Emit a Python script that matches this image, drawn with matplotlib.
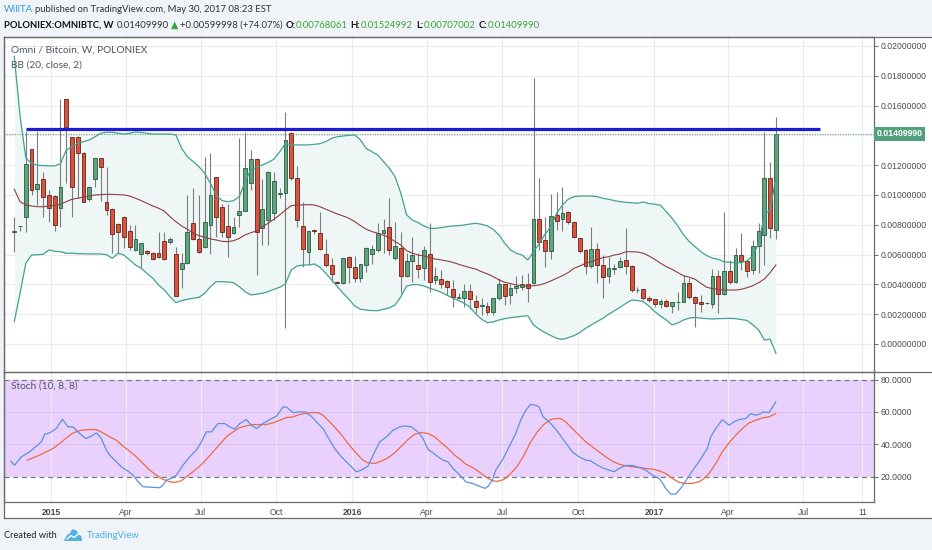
import numpy as np
import pandas as pd
import matplotlib
matplotlib.use("Agg")
import matplotlib.pyplot as plt
from matplotlib.patches import Rectangle, Polygon
from matplotlib.lines import Line2D
from matplotlib.ticker import FuncFormatter
import matplotlib.transforms as mtransforms

# ---------------- data (prices in mBTC, i.e. x 0.001 BTC) ----------------
first_week = '2014-11-17'
opens = [7.50, 7.90, 8.54, 13.06, 10.38, 11.05, 10.00, 9.93, 9.15, 16.42,
         13.87, 13.91, 12.84, 9.71, 11.05, 12.46, 9.55, 9.04, 8.05, 8.54,
         7.60, 6.31, 6.04, 6.24, 6.13, 6.09, 6.91, 6.83, 6.04, 5.01,
         5.42, 8.10, 7.03, 6.49, 7.99, 11.19, 9.17, 7.94, 7.43, 8.66,
         8.93, 10.78, 12.42, 7.77, 8.32, 8.81, 10.08, 10.15, 14.14, 11.16,
         7.94, 6.15, 7.62, 7.43, 6.04, 5.30, 4.18, 4.07, 5.86, 5.15,
         4.45, 5.30, 6.04, 6.31, 7.47, 7.87, 5.79, 6.42, 4.56, 5.57,
         5.30, 5.08, 6.02, 4.30, 4.36, 4.25, 3.67, 3.10, 3.11, 3.56,
         2.89, 2.55, 2.57, 2.13, 3.07, 4.01, 3.29, 3.74, 3.85, 4.01,
         4.07, 8.37, 6.98, 6.24, 8.66, 8.37, 8.88, 8.21, 7.09, 6.31,
         5.23, 6.36, 5.30, 4.58, 5.06, 5.19, 5.64, 5.23, 3.60, 3.67,
         3.07, 3.00, 2.66, 2.89, 2.57, 2.80, 2.84, 4.07, 3.17, 2.84,
         2.72, 2.68, 4.58, 3.34, 4.92, 4.18, 5.97, 5.59, 4.97, 6.60,
         7.32, 11.16, 7.68061]
highs = [8.54, 7.95, 14.30, 13.10, 14.30, 11.56, 10.30, 10.00, 16.42, 16.42,
         13.90, 13.95, 12.90, 10.60, 12.50, 12.50, 11.86, 9.10, 8.10, 8.60,
         7.99, 7.99, 6.80, 6.30, 6.15, 7.54, 7.54, 7.20, 6.53, 6.09,
         10.00, 10.45, 10.00, 12.53, 12.80, 11.20, 9.40, 9.40, 8.50, 13.80,
         14.25, 13.02, 12.45, 11.05, 11.60, 11.56, 10.50, 15.59, 14.20, 11.95,
         9.55, 7.60, 7.70, 8.88, 7.03, 5.79, 4.25, 5.80, 5.90, 5.91,
         5.40, 6.50, 6.64, 8.14, 8.37, 9.78, 8.21, 7.54, 6.09, 7.16,
         6.09, 6.60, 8.14, 5.19, 4.97, 4.30, 4.30, 3.40, 4.03, 4.03,
         3.29, 3.07, 2.84, 3.10, 4.41, 4.05, 4.07, 4.58, 4.60, 4.74,
         17.83, 11.12, 8.54, 10.07, 10.22, 10.56, 8.90, 8.25, 7.10, 6.35,
         7.83, 6.80, 5.97, 5.86, 5.35, 5.86, 7.76, 5.30, 3.80, 3.70,
         3.20, 3.05, 3.00, 3.00, 2.85, 3.51, 4.63, 4.41, 3.20, 3.29,
         2.80, 5.01, 4.97, 8.88, 5.64, 6.42, 7.43, 5.60, 6.98, 8.14,
         14.25, 12.24, 15.24992]
lows = [6.19, 7.60, 7.54, 10.00, 9.30, 8.54, 8.21, 7.60, 7.87, 10.78,
        8.54, 9.78, 9.50, 9.60, 10.56, 9.62, 8.66, 6.09, 6.13, 6.42,
        6.31, 6.26, 5.08, 6.00, 5.65, 5.75, 5.65, 6.70, 3.20, 3.74,
        5.40, 7.00, 6.09, 6.42, 6.04, 7.20, 7.20, 5.86, 7.40, 7.87,
        8.90, 10.34, 4.63, 6.64, 6.64, 8.32, 9.80, 1.05, 11.00, 7.87,
        5.19, 5.30, 7.40, 6.30, 5.19, 4.18, 4.05, 4.00, 4.07, 4.18,
        4.18, 4.85, 5.35, 6.19, 6.09, 5.97, 5.64, 3.40, 4.50, 4.18,
        4.41, 4.30, 3.51, 4.03, 3.74, 3.29, 2.50, 3.00, 2.50, 2.33,
        2.06, 1.95, 1.95, 1.95, 2.95, 2.62, 2.68, 3.44, 3.60, 2.84,
        4.00, 6.31, 5.19, 5.68, 7.65, 7.60, 8.05, 7.09, 6.09, 4.70,
        5.08, 4.07, 3.07, 4.07, 4.70, 5.10, 4.70, 3.51, 3.45, 2.95,
        2.85, 2.50, 2.40, 2.50, 2.06, 2.28, 2.80, 3.00, 1.16, 2.17,
        2.65, 2.40, 2.06, 3.30, 4.03, 4.11, 4.97, 4.52, 4.68, 4.74,
        5.30, 7.09, 7.07002]
closes = [7.56, 7.92, 12.06, 10.34, 10.74, 9.89, 9.11, 7.99, 10.52, 14.54,
          10.52, 12.80, 9.55, 10.52, 12.46, 11.86, 8.99, 7.36, 7.54, 7.20,
          6.53, 7.03, 6.76, 6.09, 5.70, 5.82, 5.70, 7.05, 3.22, 5.42,
          7.50, 7.03, 6.19, 8.17, 10.00, 8.54, 7.54, 7.20, 7.87, 8.93,
          11.79, 12.42, 7.54, 9.04, 11.56, 10.94, 10.12, 13.69, 11.12, 8.32,
          6.36, 7.60, 7.58, 6.36, 5.30, 4.70, 4.10, 5.79, 5.15, 4.45,
          5.37, 6.46, 6.36, 7.43, 7.65, 6.31, 6.58, 4.56, 5.59, 5.97,
          5.01, 6.31, 4.18, 4.56, 4.03, 3.81, 3.17, 3.12, 3.56, 3.02,
          2.50, 2.60, 2.17, 3.07, 4.01, 3.24, 3.74, 3.89, 4.00, 3.74,
          8.37, 6.83, 6.26, 8.61, 8.26, 8.81, 8.21, 7.20, 6.24, 5.23,
          6.38, 5.30, 4.52, 5.08, 5.10, 5.59, 5.23, 3.62, 3.64, 3.07,
          2.95, 2.68, 2.91, 2.57, 2.82, 2.83, 4.07, 3.17, 2.73, 2.66,
          2.74, 4.58, 3.34, 4.92, 4.18, 5.97, 5.59, 4.92, 6.60, 7.60,
          11.16, 7.77, 14.0999]

bb_upper = [19.3, 15.3, 12.5, 12.1, 12.0, 11.97, 11.95, 11.95, 12.1, 13.0,
            13.24, 13.47, 13.58, 13.69, 13.91, 14.14, 14.21, 14.21, 14.14, 14.09,
            14.14, 14.23, 14.2, 14.14, 14.09, 14.09, 14.09, 14.09, 14.03, 13.13,
            12.57, 12.24, 11.9, 11.46, 10.78, 10.0, 9.62, 9.55, 9.62, 9.89,
            10.89, 11.72, 11.86, 12.01, 12.19, 12.4, 12.9, 13.47, 13.36, 13.36,
            13.36, 13.36, 13.4, 13.44, 13.58, 13.8, 13.91, 13.96, 14.0, 14.03,
            13.69, 13.13, 12.9, 12.68, 12.24, 11.79, 11.23, 10.11, 8.66, 8.32,
            8.14, 7.92, 7.76, 7.76, 7.81, 7.87, 7.92, 7.94, 7.99, 8.05,
            8.1, 8.03, 7.92, 7.7, 7.32, 6.76, 6.31, 6.09, 5.97, 5.64,
            6.19, 6.76, 7.38, 7.87, 8.77, 9.33, 9.71, 9.89, 9.93, 9.93,
            9.93, 9.89, 9.78, 9.71, 9.62, 9.55, 9.51, 9.48, 9.44, 9.53,
            9.42, 9.38, 9.31, 8.88, 8.44, 7.92, 7.32, 6.87, 6.53, 6.19,
            5.93, 5.77, 5.68, 5.52, 5.48, 5.46, 5.46, 5.59, 5.91, 6.76,
            8.66, 8.99, 11.19]
bb_middle = [10.38, 9.55, 9.33, 9.26, 9.21, 9.21, 9.26, 9.31, 9.38, 9.55,
             9.71, 9.78, 9.85, 9.93, 10.0, 10.02, 10.04, 10.04, 10.02, 10.0,
             9.93, 9.78, 9.62, 9.44, 9.26, 9.11, 8.92, 8.54, 8.21, 7.92,
             7.7, 7.43, 7.27, 7.16, 7.05, 6.98, 6.89, 6.87, 6.93, 7.09,
             7.32, 7.47, 7.58, 7.87, 8.1, 8.37, 8.66, 8.99, 9.28, 9.33,
             9.33, 9.35, 9.33, 9.21, 9.04, 8.88, 8.72, 8.59, 8.44, 8.21,
             7.94, 7.7, 7.54, 7.43, 7.29, 7.13, 6.87, 6.64, 6.26, 6.09,
             5.97, 5.91, 5.79, 5.7, 5.64, 5.57, 5.48, 5.35, 5.23, 5.12,
             5.02, 4.85, 4.7, 4.52, 4.3, 4.14, 4.05, 3.96, 3.91, 3.89,
             3.91, 3.96, 4.07, 4.23, 4.41, 4.58, 4.79, 5.08, 5.23, 5.42,
             5.52, 5.68, 5.79, 5.86, 5.97, 6.04, 6.19, 6.19, 6.17, 6.09,
             5.91, 5.68, 5.42, 5.19, 5.01, 4.79, 4.58, 4.48, 4.34, 4.07,
             3.81, 3.71, 3.67, 3.62, 3.62, 3.62, 3.67, 3.78, 3.91, 4.11,
             4.36, 4.79, 5.3]
bb_lower = [1.5, 3.4, 5.42, 5.97, 5.99, 6.02, 6.31, 6.22, 6.19, 6.09,
            6.09, 6.06, 6.06, 6.04, 6.04, 6.04, 5.99, 5.75, 6.09, 5.97,
            5.64, 5.3, 5.08, 4.74, 4.41, 3.96, 3.62, 3.17, 2.77, 2.91,
            3.0, 3.07, 3.13, 3.4, 3.85, 4.18, 4.18, 4.16, 4.11, 3.85,
            3.51, 3.29, 3.34, 3.4, 3.51, 3.67, 3.81, 4.03, 4.97, 5.23,
            5.3, 5.3, 5.37, 5.14, 4.74, 4.3, 3.85, 3.4, 3.0, 2.55,
            2.33, 2.28, 2.24, 2.24, 2.33, 2.42, 2.62, 3.17, 3.89, 3.98,
            3.98, 3.89, 3.74, 3.62, 3.47, 3.27, 3.07, 2.91, 2.73, 2.46,
            2.0, 1.66, 1.43, 1.48, 1.61, 1.7, 1.77, 1.81, 1.86, 1.9,
            1.28, 0.99, 0.76, 0.56, 0.38, 0.31, 0.42, 0.56, 0.76, 1.05,
            1.28, 1.5, 1.72, 1.99, 2.23, 2.46, 2.73, 2.95, 2.92, 2.84,
            2.55, 2.17, 1.88, 1.61, 1.28, 1.41, 1.61, 1.74, 1.78, 1.74,
            1.7, 1.68, 1.7, 1.71, 1.72, 1.7, 1.64, 1.58, 1.28, 0.94,
            0.27, 0.32, -0.62]

# Stochastic (10, 8, 8): position in weeks from 2014-12-29, value
stoch_k_weeks = [-6.62, -5.93, -4.77, -3.33, -2.17, -1.30, -0.73, 0.14, 1.29, 2.33,
                 3.32, 4.18, 5.34, 6.38, 7.36, 8.23, 9.09, 9.96, 10.54, 11.40,
                 12.56, 13.71, 14.58, 15.45, 16.31, 18.05, 19.20, 19.78, 20.36, 21.22,
                 22.09, 23.25, 24.40, 25.56, 26.42, 27.29, 28.16, 29.31, 30.47, 31.33,
                 32.20, 33.07, 34.22, 35.09, 35.96, 37.11, 38.27, 39.42, 40.58, 41.16,
                 42.31, 43.47, 44.33, 45.49, 46.64, 47.51, 48.67, 49.53, 50.69, 51.56,
                 52.42, 53.29, 54.15, 55.31, 56.46, 57.33, 58.49, 59.64, 60.80, 61.66,
                 62.82, 63.97, 64.84, 65.71, 66.57, 67.44, 68.31, 69.17, 70.04, 71.20,
                 72.24, 73.40, 74.55, 75.59, 76.17, 76.86, 77.44, 78.59, 79.75, 80.91,
                 81.77, 82.64, 83.51, 84.37, 84.95, 85.64, 86.39, 87.26, 88.42, 89.57,
                 90.73, 91.88, 93.04, 93.90, 94.77, 95.93, 97.08, 97.95, 98.81, 99.97,
                 101.12, 102.28, 103.44, 104.59, 105.75, 106.32, 106.90, 107.77, 108.64, 109.50,
                 110.66, 111.81, 112.68, 113.55, 114.12, 114.70, 115.57, 116.72, 117.88, 118.74,
                 119.61, 120.77, 121.63, 122.50, 123.37, 123.65, 124.81, 125.97]
stoch_k_vals = [29.65, 27.19, 32.32, 35.4, 38.89, 41.56, 46.28, 47.1, 49.77, 55.52,
                50.8, 50.8, 46.69, 43.61, 45.05, 47.1, 43.61, 36.43, 33.35, 30.27,
                26.16, 23.49, 21.03, 16.92, 13.84, 13.43, 13.22, 14.87, 17.95, 18.97,
                21.03, 27.19, 32.32, 36.43, 41.56, 47.72, 47.72, 52.85, 52.85, 50.8,
                49.36, 52.85, 55.32, 51.83, 49.77, 52.85, 55.32, 57.37, 63.12, 63.12,
                59.63, 60.04, 60.04, 57.37, 52.85, 49.77, 42.59, 37.45, 32.32, 29.24,
                26.16, 23.08, 24.11, 26.57, 35.4, 41.56, 44.64, 48.75, 50.8, 51.42,
                50.8, 47.72, 43.61, 36.84, 34.78, 32.32, 30.27, 29.24, 25.13, 21.03,
                16.92, 15.89, 14.25, 12.81, 14.25, 17.95, 24.11, 30.27, 38.48, 46.69,
                54.91, 61.07, 64.76, 64.15, 63.12, 56.96, 54.91, 51.83, 46.69, 40.94,
                35.4, 32.32, 30.27, 29.86, 27.8, 25.54, 24.11, 23.08, 25.13, 26.98,
                26.98, 25.75, 24.11, 21.03, 18.97, 16.3, 12.81, 9.32, 9.32, 12.81,
                18.97, 25.13, 29.24, 34.37, 37.45, 44.64, 49.77, 55.32, 51.83, 53.88,
                55.32, 55.93, 59.01, 57.99, 59.01, 60.04, 59.63, 66.2]
stoch_d_weeks = [-3.79, -2.75, -1.60, -0.44, 0.72, 1.87, 3.03, 4.18, 5.63, 7.07,
                 8.23, 9.38, 10.54, 11.69, 12.85, 14.0, 15.16, 16.31, 17.47, 18.62,
                 19.78, 20.94, 21.80, 22.96, 23.82, 24.98, 26.14, 27.29, 28.45, 29.60,
                 30.76, 31.91, 33.07, 34.22, 35.38, 36.53, 37.69, 38.84, 40.0, 41.16,
                 42.31, 43.47, 44.62, 45.78, 46.64, 47.51, 48.38, 49.24, 50.11, 50.98,
                 51.84, 52.71, 53.58, 54.44, 55.31, 56.46, 57.62, 58.77, 59.93, 61.09,
                 62.24, 63.40, 64.55, 65.71, 66.86, 68.02, 69.17, 70.33, 71.48, 72.24,
                 73.40, 74.55, 75.71, 76.86, 77.73, 78.88, 80.04, 81.19, 82.35, 83.51,
                 84.66, 85.82, 86.97, 87.84, 88.70, 89.57, 90.73, 91.88, 93.04, 94.19,
                 95.35, 96.50, 97.66, 98.81, 99.97, 101.12, 102.28, 103.44, 104.59, 105.75,
                 106.90, 108.06, 109.21, 110.37, 111.52, 112.68, 113.55, 114.41, 115.57, 116.72,
                 117.88, 119.03, 120.19, 121.34, 122.50, 123.65, 124.81, 125.97]
stoch_d_vals = [30.27, 31.7, 33.35, 35.4, 37.45, 40.53, 44.02, 47.1, 48.75, 49.16,
                49.16, 47.1, 44.64, 42.59, 38.89, 35.81, 32.32, 28.21, 24.11, 21.03,
                18.36, 16.92, 16.51, 17.54, 20.0, 23.08, 26.57, 30.68, 35.4, 40.12,
                44.64, 47.72, 50.39, 51.42, 52.24, 52.24, 52.24, 53.26, 54.91, 56.55,
                56.96, 58.4, 59.43, 59.63, 59.63, 57.99, 54.91, 51.83, 48.34, 44.64,
                40.53, 36.84, 33.35, 30.27, 28.62, 28.21, 29.65, 31.7, 34.78, 38.89,
                43.0, 46.28, 47.31, 46.69, 44.64, 40.94, 37.45, 33.35, 30.27, 27.8,
                25.75, 23.08, 20.0, 17.54, 17.13, 18.36, 22.05, 26.57, 33.35, 41.56,
                47.72, 52.44, 55.32, 55.93, 55.93, 53.88, 49.77, 45.67, 41.56, 38.48,
                35.4, 32.32, 29.65, 27.8, 26.78, 26.16, 25.75, 25.13, 24.72, 23.7,
                22.05, 18.97, 16.51, 15.89, 15.89, 16.92, 18.97, 22.05, 28.21, 35.4,
                40.94, 45.67, 49.77, 53.26, 54.91, 56.35, 56.96, 59.01]

resistance_level = 14.4
last_close = 14.0999
tick_dates = ['2015-01-01', '2015-04-01', '2015-07-01', '2015-10-01', '2016-01-01', '2016-04-01',
              '2016-07-01', '2016-10-01', '2017-01-01', '2017-04-01', '2017-07-01', '2017-09-11']
tick_labels = ['2015', 'Apr', 'Jul', 'Oct', '2016', 'Apr', 'Jul', 'Oct', '2017', 'Apr', 'Jul', '11']
price_ticks = [0.0, 2.0, 4.0, 6.0, 8.0, 10.0, 12.0, 14.0, 16.0, 18.0, 20.0]
stoch_ticks = [20, 40, 60, 80]

# ---------------- helpers ----------------
W, H = 932, 550
SC = 1e-3
fig = plt.figure(figsize=(W / 100, H / 100), dpi=100)
fig.patch.set_facecolor('#f0f3f7')


def fx(px):
    return px / W


def fy(py):
    return 1 - py / H


week0 = pd.Timestamp('2014-12-29')
dates = pd.date_range(first_week, periods=len(opens), freq='7D')
xw = ((dates - week0).days / 7.0).to_numpy()
tick_x = [((pd.Timestamp(d) - week0).days / 7.0) for d in tick_dates]

O = np.array(opens) * SC
Hh = np.array(highs) * SC
L = np.array(lows) * SC
C = np.array(closes) * SC

FRAME = '#6a6a6a'
GRID = '#ececec'

# white chart panel
fig.add_artist(Rectangle((fx(4), fy(518)), fx(932) - fx(4), fy(37) - fy(518),
                         transform=fig.transFigure, facecolor='white', edgecolor='none', zorder=0))

ax = fig.add_axes([fx(4), fy(372), fx(874) - fx(4), fy(37) - fy(372)])
ax2 = fig.add_axes([fx(4), fy(502.3), fx(874) - fx(4), fy(372) - fy(502.3)], sharex=ax)

xlim = (-7.78, 143.0)
ax.set_xlim(*xlim)
ax.set_ylim(-0.00188, 0.0206)

# grid
ax.set_xticks(tick_x)
for t in tick_x:
    ax.axvline(t, color=GRID, lw=0.8, zorder=0)
    ax2.axvline(t, color=GRID, lw=0.8, zorder=0.5)
for p in price_ticks:
    ax.axhline(p * SC, color=GRID, lw=0.8, zorder=0)

# Bollinger bands
up = np.array(bb_upper) * SC
mid = np.array(bb_middle) * SC
lo = np.array(bb_lower) * SC
ax.fill_between(xw, lo, up, color='#eef7f6', zorder=1, lw=0)
ax.plot(xw, up, color='#43a192', lw=0.9, zorder=4)
ax.plot(xw, lo, color='#43a192', lw=0.9, zorder=4)
ax.plot(xw, mid, color='#8f3d45', lw=0.8, zorder=4)

# candles
upc = C >= O
fills = np.where(upc, '#5fa47e', '#d55541')
edges = np.where(upc, '#2a5a3e', '#6a2016')
ax.vlines(xw, L, Hh, color='#7d7d7f', lw=0.8, zorder=2)
body_lo = np.minimum(O, C)
body_h = np.maximum(np.abs(C - O), 0.00005)
ax.bar(xw, body_h, bottom=body_lo, width=0.66, color=fills, edgecolor=edges,
       linewidth=0.6, zorder=3)

# resistance line & last price line
ax.hlines(resistance_level * SC, xw[2], 133.7, color='#1c1cd4', lw=2.3, zorder=6)
ax.axhline(last_close * SC, color='#5e9f8c', lw=0.8, ls=(0, (1, 1.3)), zorder=5)

# axis styling main (the 0.014 label is covered by the last-price tag)
ax.yaxis.tick_right()
ax.set_yticks([p * SC for p in price_ticks])
ax.yaxis.set_major_formatter(FuncFormatter(
    lambda v, _: '' if abs(v - 0.014) < 1e-6 else f'{abs(v):.8f}'))
ax.tick_params(axis='y', length=3, width=0.7, color=FRAME, labelsize=6.2,
               labelcolor='#4a4a4a', pad=2)
ax.tick_params(axis='x', length=0, labelbottom=False)
for s in ['top', 'left', 'right']:
    ax.spines[s].set_color(FRAME)
    ax.spines[s].set_linewidth(0.9)
ax.spines['bottom'].set_visible(False)
for lab in ax.get_yticklabels():
    lab.set_family('Liberation Sans')

# last price label
trans = mtransforms.blended_transform_factory(ax.transAxes, ax.transData)
ax.text(1.003, last_close * SC, f'{last_close * SC:.8f}', transform=trans, ha='left', va='center',
        color='white', fontsize=6.2, fontweight='bold', family='Liberation Sans',
        bbox=dict(boxstyle='square,pad=0.3', fc='#53a07e', ec='none'), clip_on=False, zorder=10)

# stochastic panel
ax2.set_ylim(4.23, 84.7)
ax2.axhspan(20, 80, color='#ead1fd', zorder=0, lw=0)
for v in [40, 60]:
    ax2.axhline(v, color='#dcc3ee', lw=0.8, zorder=0.6)
ax2.axhline(80, color='#7a7a7a', lw=0.9, ls=(0, (4, 3)), zorder=1)
ax2.axhline(20, color='#7a7a7a', lw=0.9, ls=(0, (4, 3)), zorder=1)
ax2.plot(stoch_d_weeks, stoch_d_vals, color='#ec6a45', lw=0.9, zorder=3)
ax2.plot(stoch_k_weeks, stoch_k_vals, color='#5b8fe6', lw=0.9, zorder=4)
ax2.yaxis.tick_right()
ax2.set_yticks(stoch_ticks)
ax2.yaxis.set_major_formatter(FuncFormatter(lambda v, _: f'{v:.4f}'))
ax2.tick_params(axis='y', length=3, width=0.7, color=FRAME, labelsize=6.2,
                labelcolor='#4a4a4a', pad=2)
ax2.set_xticks(tick_x)
ax2.set_xticklabels(tick_labels)
ax2.tick_params(axis='x', length=0, labelsize=6.2, labelcolor='#4a4a4a', pad=4)
for lab in ax2.get_xticklabels():
    lab.set_family('Liberation Sans')
    if lab.get_text().isdigit() and len(lab.get_text()) == 4:
        lab.set_fontweight('bold')
for lab in ax2.get_yticklabels():
    lab.set_family('Liberation Sans')
for s in ['top', 'bottom', 'left', 'right']:
    ax2.spines[s].set_color(FRAME)
    ax2.spines[s].set_linewidth(0.9)
ax.set_xlim(*xlim)

# frame lines extending into the axis column
def fline(x0, y0, x1, y1):
    fig.add_artist(Line2D([fx(x0), fx(x1)], [fy(y0), fy(y1)], transform=fig.transFigure,
                          color=FRAME, lw=0.9, zorder=20))

fline(4, 37, 932, 37)
fline(4, 372, 932, 372)
fline(4, 518, 932, 518)
fline(4, 37, 4, 518)

# panel labels
LBL = '#4f5560'
fig.text(fx(11), fy(50), 'Omni / Bitcoin, W, POLONIEX', fontsize=7.3, family='Lato', color=LBL, va='center')
fig.text(fx(11), fy(65), 'BB (20, close, 2)', fontsize=7.3, family='Lato', color=LBL, va='center')
fig.text(fx(11), fy(386.5), 'Stoch (10, 8, 8)', fontsize=7.3, family='Lato', color=LBL, va='center')

# header lines (fitted to width)
fig.canvas.draw()
renderer = fig.canvas.get_renderer()


def layout(runs, x0, x1, ypx, base=8.0):
    objs = []
    for s, col, wt, gap in runs:
        t = fig.text(0, fy(ypx), s, color=col, fontweight=wt, fontsize=base,
                     family=['Lato', 'DejaVu Sans'], va='center', ha='left')
        objs.append((t, gap))

    def place(size):
        x = x0
        for t, gap in objs:
            t.set_fontsize(size)
            x += gap * size / base
            t.set_x(fx(x))
            x += t.get_window_extent(renderer).width
        return x

    end = place(base)
    place(base * (x1 - x0) / (end - x0))


GREEN = '#3aa53a'
DARK = '#333333'
layout([('WillTA', '#2b9ad8', 'normal', 0),
        ('published on TradingView.com, May 30, 2017 08:23 EST', DARK, 'normal', 2.5)], 4, 272, 10)
layout([('POLONIEX:OMNIBTC, W', '#111111', 'bold', 0),
        ('0.01409990', DARK, 'normal', 3.5),
        ('\u25B2', GREEN, 'normal', 2.5),
        ('+0.00599998 (+74.07%)', DARK, 'normal', 2.0),
        ('O:', '#111111', 'bold', 3.5),
        ('0.00768061', GREEN, 'normal', 0.5),
        ('H:', '#111111', 'bold', 3.5),
        ('0.01524992', GREEN, 'normal', 0.5),
        ('L:', '#111111', 'bold', 3.5),
        ('0.00707002', GREEN, 'normal', 0.5),
        ('C:', '#111111', 'bold', 3.5),
        ('0.01409990', GREEN, 'normal', 0.5)], 4, 545, 25.5)

# footer
layout([('Created with', '#222222', 'normal', 0)], 4, 57, 535)
layout([('TradingView', '#48b2e4', 'normal', 0)], 87, 140, 535)
logo = [(64, 541), (66.5, 535.5), (69.5, 533.5), (72.5, 529), (76.5, 530.5), (78.5, 534),
        (81.5, 536.5), (82, 541)]
fig.add_artist(Polygon([(fx(a), fy(b)) for a, b in logo], closed=True, transform=fig.transFigure,
                       facecolor='#4fb3e3', edgecolor='none', zorder=20))
fig.add_artist(Line2D([fx(67), fx(71), fx(74), fx(79)], [fy(539), fy(535.5), fy(537.5), fy(533.5)],
                      transform=fig.transFigure, color='white', lw=1.0, zorder=21))

fig.savefig('out.png', dpi=100, facecolor=fig.get_facecolor())
